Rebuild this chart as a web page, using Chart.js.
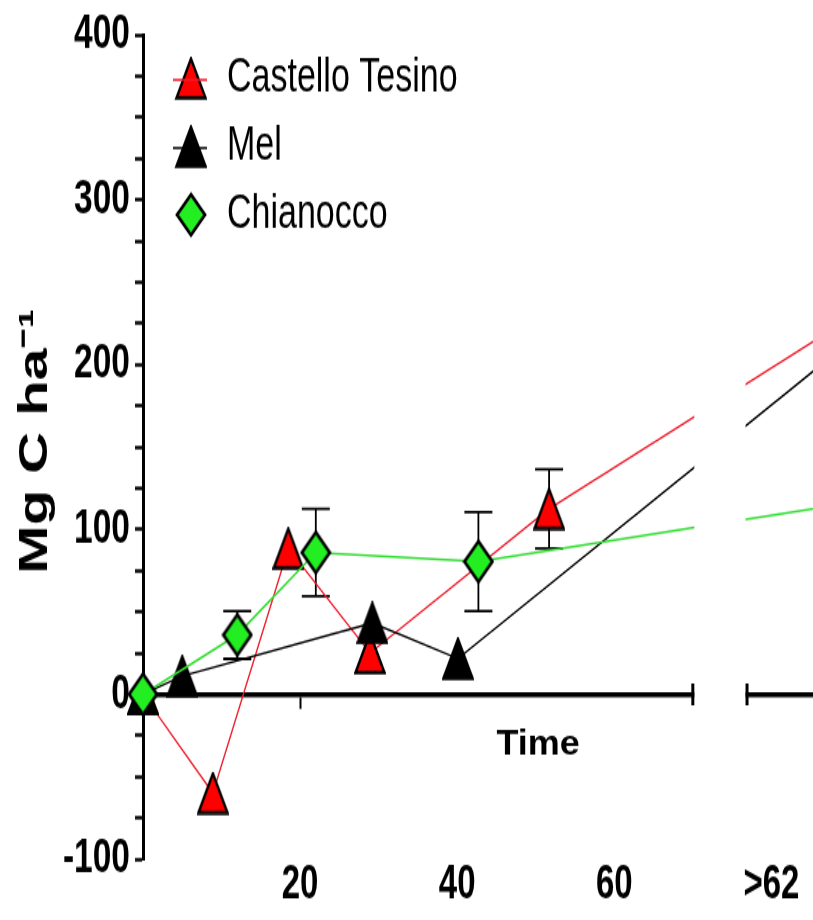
<!DOCTYPE html>
<html>
<head>
<meta charset="utf-8">
<script src="https://cdn.jsdelivr.net/npm/chart.js@4/dist/chart.umd.min.js"></script>
<style>
  html, body { margin: 0; padding: 0; background: #fff; overflow: hidden; width: 813px; height: 920px; }
  #wrap { position: absolute; left: 0; top: 0; width: 830px; height: 634px; transform-origin: 0 0; }
</style>
</head>
<body>
<div id="wrap"><canvas id="chart" width="830" height="634" style="width:830px;height:634px"></canvas></div>
<script>
// ---------------- data ----------------
const seriesNames = ['Castello Tesino', 'Mel', 'Chianocco'];

const castelloX   = [0, 8.9, 18.5, 28.9, 51.7, 90];
const castelloY   = [0, -60, 88.5, 25, 112.5, 228];
const castelloErr = [0, 0, 0, 0, 24, 0];

const melX = [0, 5, 29.2, 40.1, 90];
const melY = [0, 11, 43.3, 21.6, 214];

const chiX   = [0, 12, 22, 42.7, 90];
const chiY   = [0, 36, 86, 80.5, 116];
const chiErr = [0, 14.5, 26.5, 30, 0];

const xTickValues = [20, 40, 60, 80];
const xTickLabels = ['20', '40', '60', '>62'];
const xMarkedTicks = [20];
const xMin = 0, xMax = 85.35;
const axisBreak = [70, 76.9];

const yMajorTicks = [-100, 0, 100, 200, 300, 400];
const yAllTicks = [-100, -75, -50, -25, 0, 25, 50, 75, 100, 125, 150, 175, 200, 225, 250, 275, 300, 325, 350, 375, 400];
const yMin = -100, yMax = 400;

const yTitle = '\u2009Mg C ha\u207B\u00B9';
const xTitle = 'Time';

// ---------------- styling ----------------
const H = 634, STRETCH = 920 / H;
document.getElementById('wrap').style.transform = 'scale(1,' + STRETCH + ')';
const FAMILY = '"Liberation Sans", Arial, sans-serif';
const RED = '#ff0000', RED_LINE = '#ee1a2a';
const GREEN = '#22ee22', GREEN_LINE = '#33dd33';
const BLACK = '#000000';

Chart.defaults.font.family = FAMILY;
Chart.defaults.color = '#000';

function makeTriangle(fill, withLine, lineColor, extraLeft) {
  const c = document.createElement('canvas');
  const w = 32, h = 30, pad = extraLeft || 0;
  c.width = w + pad * 2; c.height = h;
  const g = c.getContext('2d');
  const cx = c.width / 2 + pad;
  g.beginPath();
  g.moveTo(cx, 1.5);
  g.lineTo(cx + 14.5, h - 1.5);
  g.lineTo(cx - 14.5, h - 1.5);
  g.closePath();
  g.fillStyle = fill; g.fill();
  g.lineJoin = 'miter'; g.lineWidth = 2.4; g.strokeStyle = '#000'; g.stroke();
  if (withLine) {
    g.strokeStyle = lineColor; g.lineWidth = 1.6;
    g.beginPath(); g.moveTo(cx - 18, h / 2 + 1); g.lineTo(cx + 18, h / 2 + 1); g.stroke();
  }
  return c;
}
function makeDiamond(fill, extraLeft) {
  const c = document.createElement('canvas');
  const w = 32, h = 32, pad = extraLeft || 0;
  c.width = w + pad * 2; c.height = h;
  const g = c.getContext('2d');
  const cx = c.width / 2 + pad, cy = h / 2;
  g.beginPath();
  g.moveTo(cx, cy - 14); g.lineTo(cx + 14, cy); g.lineTo(cx, cy + 14); g.lineTo(cx - 14, cy);
  g.closePath();
  g.fillStyle = fill; g.fill();
  g.lineJoin = 'miter'; g.lineWidth = 2.6; g.strokeStyle = '#000'; g.stroke();
  return c;
}

const markers = [makeTriangle(RED), makeTriangle(BLACK), makeDiamond(GREEN)];
const legendMarkers = [makeTriangle(RED, true, RED_LINE, 8), makeTriangle(BLACK, true, BLACK, 8), makeDiamond(GREEN, 8)];

function pts(xs, ys) { return xs.map((x, i) => ({ x: x, y: ys[i] })); }

const errorBarsPlugin = {
  id: 'errorBars',
  beforeDatasetsDraw(chart) {
    const { ctx, scales: { x, y } } = chart;
    ctx.save();
    ctx.strokeStyle = '#000';
    ctx.lineWidth = 1.8;
    chart.data.datasets.forEach((ds) => {
      if (!ds.errors) return;
      ds.data.forEach((p, i) => {
        const e = ds.errors[i];
        if (!e || p.x > xMax) return;
        const px = x.getPixelForValue(p.x);
        const yt = y.getPixelForValue(p.y + e);
        const yb = y.getPixelForValue(p.y - e);
        ctx.beginPath();
        ctx.moveTo(px, yt); ctx.lineTo(px, yb);
        ctx.moveTo(px - 14, yt); ctx.lineTo(px + 14, yt);
        ctx.moveTo(px - 14, yb); ctx.lineTo(px + 14, yb);
        ctx.stroke();
      });
    });
    ctx.restore();
  }
};

const axisBreakPlugin = {
  id: 'axisBreak',
  afterDatasetsDraw(chart) {
    const { ctx, chartArea, scales: { x, y } } = chart;
    const x1 = x.getPixelForValue(axisBreak[0]);
    const x2 = x.getPixelForValue(axisBreak[1]);
    const y0 = y.getPixelForValue(0);
    ctx.save();
    ctx.fillStyle = '#fff';
    ctx.fillRect(x1 + 1.5, chartArea.top - 2, x2 - x1 - 3, chartArea.bottom - chartArea.top + 4);
    ctx.strokeStyle = '#000';
    ctx.lineWidth = 3;
    ctx.beginPath();
    ctx.moveTo(x1, y0 - 7.5); ctx.lineTo(x1, y0 + 7.5);
    ctx.moveTo(x2, y0 - 7.5); ctx.lineTo(x2, y0 + 7.5);
    ctx.stroke();
    ctx.restore();
  }
};

const xTitlePlugin = {
  id: 'xTitle',
  afterDraw(chart) {
    const { ctx, scales: { x, y } } = chart;
    ctx.save();
    ctx.translate(x.getPixelForValue(50.3), y.getPixelForValue(0) + 35);
    ctx.scale(1, 1 / STRETCH);
    ctx.font = 'bold 36px ' + FAMILY;
    ctx.fillStyle = '#000';
    ctx.textAlign = 'center';
    ctx.textBaseline = 'middle';
    ctx.fillText(xTitle, 0, 0);
    ctx.restore();
  }
};

const common = { showLine: true, fill: false, tension: 0, pointRadius: 15, pointHoverRadius: 15, clip: { left: 30, top: 30, bottom: 30, right: 0 } };

new Chart(document.getElementById('chart'), {
  type: 'line',
  data: {
    datasets: [
      Object.assign({}, common, { label: seriesNames[0], data: pts(castelloX, castelloY), errors: castelloErr,
        borderColor: RED_LINE, backgroundColor: RED, borderWidth: 1.3, pointStyle: markers[0], order: 2 }),
      Object.assign({}, common, { label: seriesNames[1], data: pts(melX, melY),
        borderColor: BLACK, backgroundColor: BLACK, borderWidth: 1.4, pointStyle: markers[1], order: 1 }),
      Object.assign({}, common, { label: seriesNames[2], data: pts(chiX, chiY), errors: chiErr,
        borderColor: GREEN_LINE, backgroundColor: GREEN, borderWidth: 1.6, pointStyle: markers[2], order: 0 })
    ]
  },
  options: {
    responsive: false,
    animation: false,
    events: [],
    layout: { padding: { left: 0, right: 0, top: 24, bottom: 42 } },
    scales: {
      x: {
        type: 'linear',
        position: { y: 0 },
        min: xMin, max: xMax,
        afterBuildTicks: (s) => { s.ticks = xTickValues.map(v => ({ value: v })); },
        afterFit: (s) => { s.paddingLeft = 0; s.paddingRight = 0; },
        ticks: {
          callback: (v, i) => xTickLabels[i],
          font: { size: 33, weight: 'bold', family: FAMILY },
          color: '#000',
          padding: 104,
          maxRotation: 0, autoSkip: false
        },
        grid: {
          drawOnChartArea: false, drawTicks: true, tickLength: 8, tickWidth: 2,
          tickColor: (c) => (c.tick && xMarkedTicks.includes(c.tick.value)) ? '#000' : 'rgba(0,0,0,0)'
        },
        border: { display: true, color: '#000', width: 3.5 }
      },
      y: {
        type: 'linear',
        position: 'left',
        min: yMin, max: yMax,
        afterBuildTicks: (s) => { s.ticks = yAllTicks.map(v => ({ value: v })); },
        afterFit: (s) => { s.width = 143; },
        ticks: {
          callback: (v) => yMajorTicks.includes(v) ? String(v) : '',
          font: { size: 33.5, weight: 'bold', family: FAMILY, lineHeight: 1 },
          color: '#000',
          padding: 5,
          autoSkip: false
        },
        grid: { drawOnChartArea: false, drawTicks: true, tickLength: 8, tickWidth: 2.4, tickColor: '#000' },
        border: { display: true, color: '#000', width: 3 },
        title: {
          display: true, text: yTitle, color: '#000',
          font: { size: 40, weight: 'bold', family: FAMILY },
          padding: { top: 12, bottom: 0 }
        }
      }
    },
    plugins: {
      tooltip: { enabled: false },
      legend: {
        display: true,
        position: 'chartArea',
        align: 'start',
        title: { display: true, text: ' ', font: { size: 10 }, padding: { top: 0, bottom: 12 } },
        labels: {
          usePointStyle: true,
          pointStyleWidth: 54,
          padding: 13,
          color: '#000',
          font: { size: 34, family: FAMILY },
          generateLabels: (chart) => chart.data.datasets.map((ds, i) => ({
            text: ds.label, datasetIndex: i, pointStyle: legendMarkers[i],
            fillStyle: ds.backgroundColor, strokeStyle: ds.borderColor, lineWidth: 0, hidden: false, fontColor: '#000'
          }))
        }
      }
    }
  },
  plugins: [errorBarsPlugin, axisBreakPlugin, xTitlePlugin]
});
</script>
</body>
</html>
